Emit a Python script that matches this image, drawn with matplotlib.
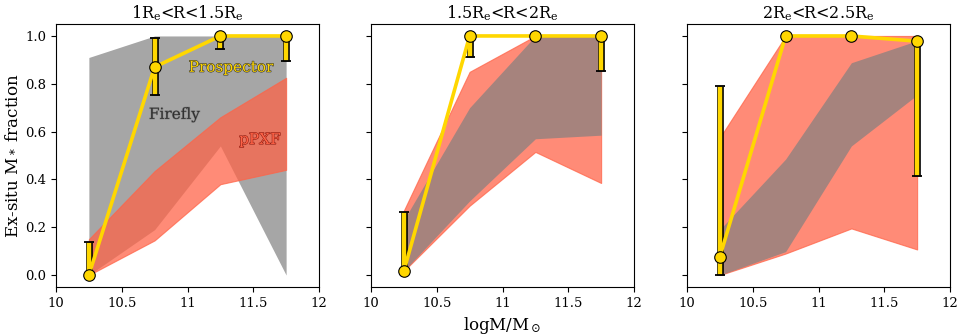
import matplotlib
matplotlib.use('Agg')
import matplotlib.pyplot as plt
import matplotlib.patheffects as pe
from matplotlib.ticker import FormatStrFormatter

plt.rcParams['font.family'] = 'DejaVu Serif'
plt.rcParams['mathtext.fontset'] = 'dejavuserif'

logm = [10.25, 10.75, 11.25, 11.75]
titles = [r'1R$_{\rm e}$<R<1.5R$_{\rm e}$',
          r'1.5R$_{\rm e}$<R<2R$_{\rm e}$',
          r'2R$_{\rm e}$<R<2.5R$_{\rm e}$']

# Prospector median and error range
prosp = [[0.0, 0.87, 1.0, 1.0],
         [0.017, 1.0, 1.0, 1.0],
         [0.077, 1.0, 1.0, 0.978]]
prosp_lo = [[0.0, 0.755, 0.945, 0.897],
            [0.017, 0.91, 1.0, 0.855],
            [0.0, 1.0, 1.0, 0.414]]
prosp_hi = [[0.137, 0.99, 1.0, 1.0],
            [0.264, 1.0, 1.0, 1.0],
            [0.79, 1.0, 1.0, 0.978]]

# Firefly band
ff_lo = [[0.0, 0.19, 0.54, 0.0],
         [0.017, 0.31, 0.57, 0.585],
         [0.0, 0.098, 0.54, 0.753]]
ff_hi = [[0.91, 1.0, 1.0, 1.0],
         [0.23, 0.70, 1.0, 1.0],
         [0.19, 0.485, 0.888, 0.98]]

# pPXF band
pp_lo = [[0.0, 0.145, 0.38, 0.44],
         [0.017, 0.29, 0.515, 0.385],
         [0.0, 0.09, 0.195, 0.107]]
pp_hi = [[0.15, 0.435, 0.66, 0.825],
         [0.27, 0.85, 1.0, 1.0],
         [0.575, 1.0, 1.0, 1.0]]

fig = plt.figure(figsize=(9.68, 3.35), dpi=100)
lefts = [56, 371, 687]
axes = []
for i in range(3):
    ax = fig.add_axes([lefts[i] / 968, 1 - 287 / 335, 263 / 968, 263 / 335])
    axes.append(ax)

    # firefly under ppxf in the first panel, over it in the others
    ff_z, pp_z = (1, 2) if i == 0 else (2, 1)
    ax.fill_between(logm, ff_lo[i], ff_hi[i], color='gray', alpha=0.7, lw=0, zorder=ff_z)
    ax.fill_between(logm, pp_lo[i], pp_hi[i], color='tomato', alpha=0.74, lw=0.8, zorder=pp_z)

    yerr = [[p - l for p, l in zip(prosp[i], prosp_lo[i])],
            [h - p for p, h in zip(prosp[i], prosp_hi[i])]]
    eb = ax.errorbar(logm, prosp[i], yerr=yerr, fmt='none', ecolor='gold',
                     elinewidth=3.2, capsize=3.5, capthick=1.3, zorder=3)
    for cap in eb[1]:
        cap.set_markeredgecolor('k')
    for col in eb[2]:
        col.set_path_effects([pe.Stroke(linewidth=4.8, foreground='k'), pe.Normal()])

    ax.plot(logm, prosp[i], color='gold', lw=2.6, marker='o', ms=8.3,
            mfc='gold', mec='k', mew=0.8, zorder=4)

    ax.set_xlim(10, 12)
    ax.set_ylim(-0.05, 1.05)
    ax.set_xticks([10, 10.5, 11, 11.5, 12])
    ax.xaxis.set_major_formatter(FormatStrFormatter('%g'))
    ax.set_yticks([0, 0.2, 0.4, 0.6, 0.8, 1.0])
    ax.tick_params(labelsize=9.5)
    if i > 0:
        ax.set_yticklabels([])
    ax.set_title(titles[i], fontsize=11.5, pad=4)

axes[0].set_ylabel(r'Ex-situ M$_*$ fraction', fontsize=12)
axes[1].set_xlabel(r'logM/M$_\odot$', fontsize=12)

ax = axes[0]
ax.text(11.33, 0.867, 'Prospector', color='gold', fontsize=11, ha='center', va='center',
        zorder=5, path_effects=[pe.withStroke(linewidth=0.8, foreground='#333333')])
ax.text(10.9, 0.67, 'Firefly', color='#303030', fontsize=11, ha='center', va='center',
        zorder=5, path_effects=[pe.withStroke(linewidth=0.8, foreground='#888888')])
ax.text(11.55, 0.565, 'pPXF', color='tomato', fontsize=11, ha='center', va='center',
        zorder=5, path_effects=[pe.withStroke(linewidth=0.8, foreground='#8b1a10')])

fig.savefig('out.png', dpi=100)
